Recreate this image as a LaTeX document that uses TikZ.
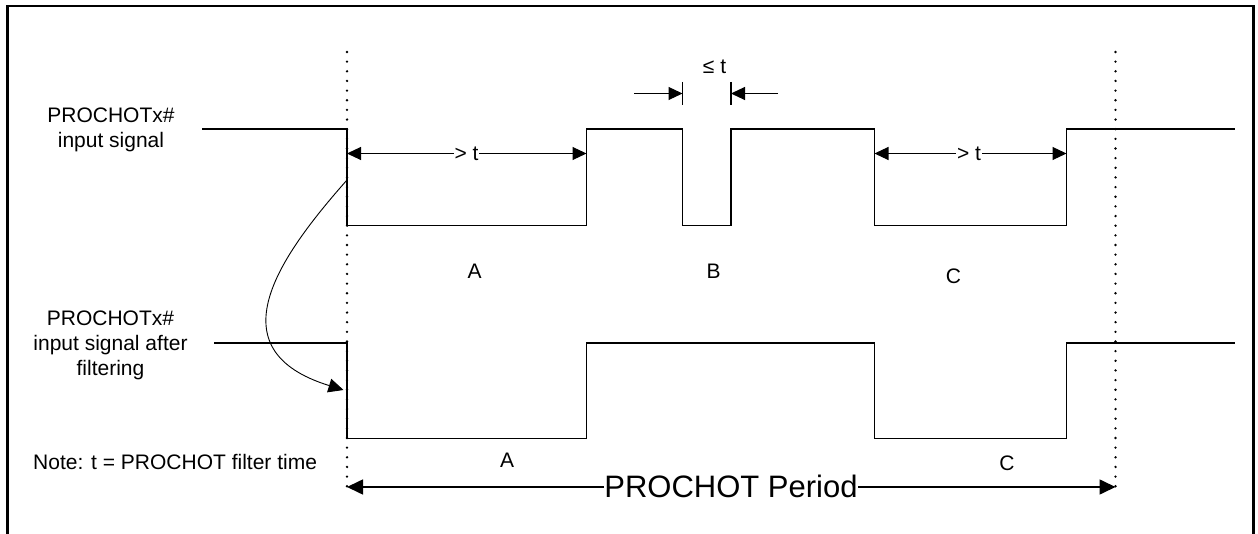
\documentclass[tikz,border=0pt]{standalone}
\usepackage{fontspec}
\setmainfont{Liberation Sans}
\usetikzlibrary{arrows.meta}
\tikzset{
  sig/.style={line width=1.1pt, line join=miter},
  frame/.style={line width=2.2pt},
  dots/.style={line width=2.6pt, line cap=round, dash pattern=on 0pt off 9.65pt},
  dim/.style={line width=1.1pt, -{Triangle[length=14pt,width=13pt]}},
  dimboth/.style={line width=1.1pt, {Triangle[length=14pt,width=13pt]}-{Triangle[length=14pt,width=13pt]}},
  per/.style={line width=1.6pt, {Triangle[length=16pt,width=15pt]}-{Triangle[length=16pt,width=15pt]}},
  lbl/.style={font=\fontsize{21}{25}\selectfont, align=center, inner sep=0pt},
  onl/.style={font=\fontsize{21}{25}\selectfont, fill=white, inner xsep=1pt, inner ysep=0pt},
}
\begin{document}
\begin{tikzpicture}[x=1pt,y=-1pt]
\useasboundingbox (0,0) rectangle (1258,534);
% frame
\draw[frame] (7.5,534) -- (7.5,6) -- (1253.5,6) -- (1253.5,534);
% dotted period boundaries
\coordinate (d1t) at (347,52); \coordinate (d1b) at (347,487);
\coordinate (d2t) at (1115.5,52); \coordinate (d2b) at (1115.5,487);
\draw[dots] (d1t) -- (d1b);
\draw[dots] (d2t) -- (d2b);
% input signal
\draw[sig] (202,129) -- (347,129) -- (347,225.5) -- (586.5,225.5) -- (586.5,129)
  -- (682.5,129) -- (682.5,225.5) -- (731,225.5) -- (731,129) -- (874.5,129)
  -- (874.5,225.5) -- (1066.5,225.5) -- (1066.5,129) -- (1235,129);
% filtered signal
\draw[sig] (214,343) -- (347,343) -- (347,438.5) -- (586.5,438.5) -- (586.5,343)
  -- (874.5,343) -- (874.5,438.5) -- (1066.5,438.5) -- (1066.5,343) -- (1235,343);
% > t dimensions
\coordinate (a1) at (347,153.5); \coordinate (a2) at (586.5,153.5);
\coordinate (c1) at (874.5,153.5); \coordinate (c2) at (1066.5,153.5);
\draw[dimboth] (a1) -- (a2);
\node[onl] (gtA) at (466.5,153.5) {> t};
\draw[dimboth] (c1) -- (c2);
\node[onl] (gtC) at (969,153.5) {> t};
% <= t dimension
\coordinate (bt1) at (682.5,82); \coordinate (bb1) at (682.5,105.5);
\coordinate (bt2) at (731,82); \coordinate (bb2) at (731,105.5);
\draw[line width=1.1pt] (bt1) -- (bb1);
\draw[line width=1.1pt] (bt2) -- (bb2);
\coordinate (bl) at (634,93.5); \coordinate (blt) at (682.5,93.5);
\coordinate (br) at (778,93.5); \coordinate (brt) at (731,93.5);
\draw[dim] (bl) -- (blt);
\draw[dim] (br) -- (brt);
\node[lbl] (let) at (714.5,67) {≤ t};
% labels
\node[lbl] (in1) at (111,130) {PROCHOTx\#\\input signal};
\node[lbl] (in2) at (110.5,345) {PROCHOTx\#\\input signal after\\filtering};
\node[lbl, anchor=west] (note) at (33,462) {Note: t = PROCHOT filter time};
\node[lbl] (lA) at (474.5,271) {A};
\node[lbl] (lB) at (713.5,271) {B};
\node[lbl] (lC) at (953.5,276) {C};
\node[lbl] (lA2) at (507,460) {A};
\node[lbl] (lC2) at (1007,463) {C};
% curved arrow
\coordinate (cs) at (347,180); \coordinate (ce) at (343.5,390);
\draw[line width=0.9pt, -{Triangle[length=15pt,width=14pt]}] (cs) .. controls (278,258) and (214,350) .. (ce);
% period
\draw[per] (d1b) -- (d2b);
\node[font=\fontsize{31}{36}\selectfont, fill=white, inner xsep=0.5pt, inner ysep=0pt] (per) at (731,486) {PROCHOT Period};
\end{tikzpicture}
\end{document}
